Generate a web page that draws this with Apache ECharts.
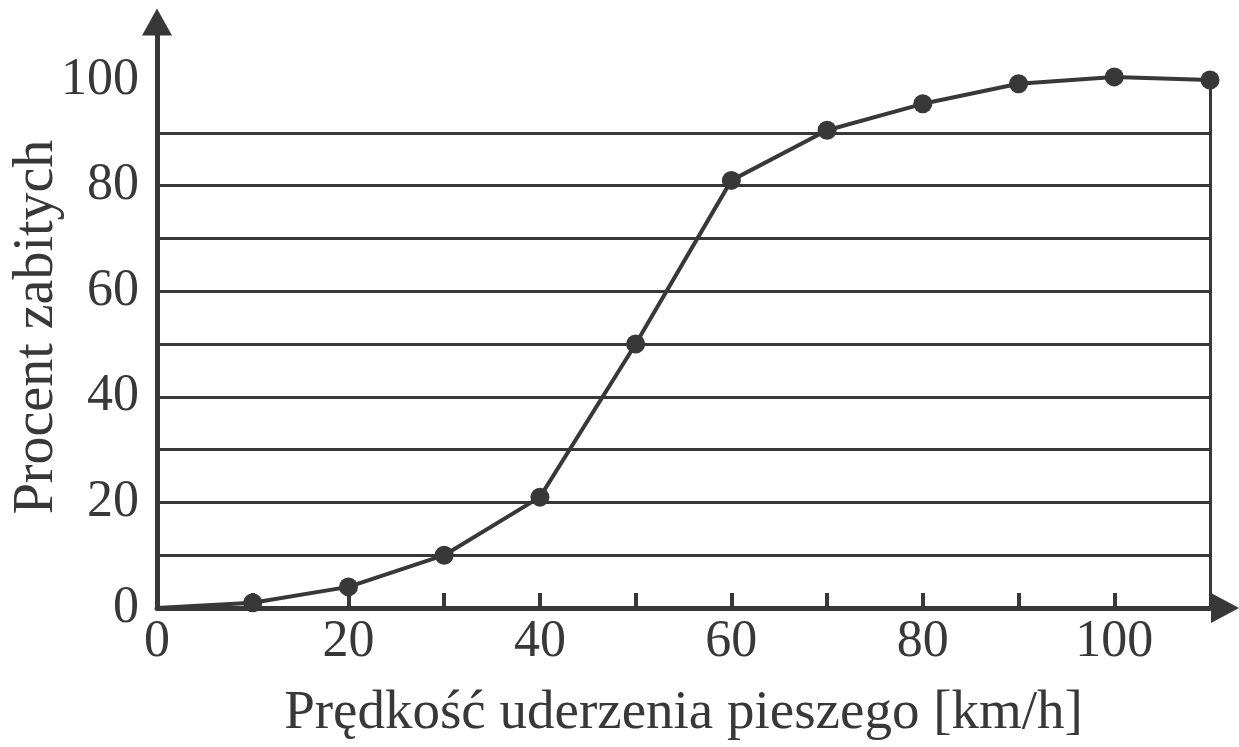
<!DOCTYPE html>
<html>
<head>
<meta charset="utf-8">
<script src="https://cdn.jsdelivr.net/npm/echarts@6/dist/echarts.min.js"></script>
<style>
html,body{margin:0;padding:0;background:#fff;}
#c{width:1239px;height:747px;}
</style>
</head>
<body>
<div id="c"></div>
<script>
const speeds = [0, 10, 20, 30, 40, 50, 60, 70, 80, 90, 100, 110];
const percentKilled = [0, 1, 4, 10, 21, 50, 81, 90.5, 95.5, 99.3, 100.6, 100];
const xTickLabels = [0, 20, 40, 60, 80, 100];
const yTickLabels = [0, 20, 40, 60, 80, 100];
const xMinorTicks = [10, 20, 30, 40, 50, 60, 70, 80, 90, 100];
const xName = 'Prędkość uderzenia pieszego [km/h]';
const yName = 'Procent zabitych';

const ink = '#383838';
const font = "'Liberation Serif', 'DejaVu Serif', serif";

const chart = echarts.init(document.getElementById('c'), null, {renderer: 'canvas'});
const gridColors = [];
for (let v = 10; v <= 110; v += 10) gridColors.push(v <= 90 ? ink : 'rgba(0,0,0,0)');

chart.setOption({
  backgroundColor: '#ffffff',
  animation: false,
  grid: {left: 157, right: 29, top: 22, bottom: 139, containLabel: false, outerBoundsMode: 'none'},
  xAxis: {
    type: 'value', min: 0, max: 110, interval: 10,
    name: xName, nameLocation: 'middle', nameGap: 78,
    nameTextStyle: {fontFamily: font, fontSize: 55, color: ink},
    axisLine: {show: true, symbol: ['none', 'triangle'], symbolSize: [30, 28], symbolOffset: [0, 15],
      lineStyle: {color: ink, width: 5}},
    axisTick: {show: true, inside: true, length: 15, customValues: xMinorTicks,
      lineStyle: {color: ink, width: 4}},
    axisLabel: {customValues: xTickLabels, margin: 8, fontFamily: font, fontSize: 52, color: ink},
    splitLine: {show: false}
  },
  yAxis: {
    type: 'value', min: 0, max: 111, interval: 10,
    name: yName, nameLocation: 'middle', nameGap: 92, nameRotate: 90, nameMoveOverlap: false,
    nameTextStyle: {fontFamily: font, fontSize: 56, color: ink, padding: [0, 24, 0, 0]},
    axisLine: {show: true, symbol: ['none', 'triangle'], symbolSize: [30, 27],
      lineStyle: {color: ink, width: 5}},
    axisTick: {show: false},
    axisLabel: {customValues: yTickLabels, margin: 18, fontFamily: font, fontSize: 52, color: ink,
      verticalAlign: 'middle'},
    splitLine: {show: true, showMinLine: false, showMaxLine: false,
      lineStyle: {color: gridColors, width: 3}}
  },
  series: [{
    type: 'line',
    data: speeds.map((s, i) => [s, percentKilled[i]]),
    lineStyle: {color: ink, width: 4},
    itemStyle: {color: ink},
    symbol: 'circle',
    symbolSize: (v, p) => p.dataIndex === 0 ? 0 : 19,
    z: 5,
    markLine: {
      silent: true, symbol: 'none', label: {show: false},
      lineStyle: {color: ink, width: 3, type: 'solid'},
      data: [[{coord: [speeds[speeds.length - 1], 0]}, {coord: [speeds[speeds.length - 1], percentKilled[percentKilled.length - 1]]}]]
    }
  }]
});
</script>
</body>
</html>
